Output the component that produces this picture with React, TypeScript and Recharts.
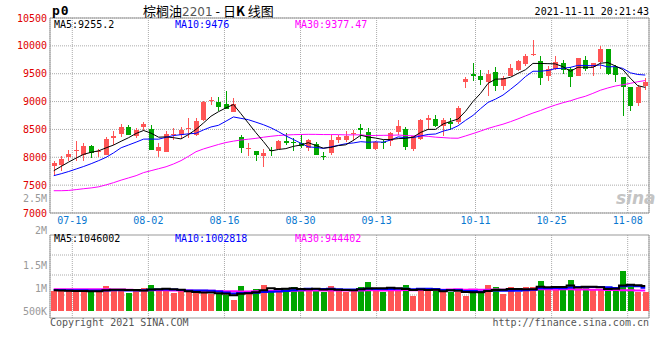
import { ComposedChart, Bar, Line, XAxis, YAxis, CartesianGrid, ReferenceArea } from 'recharts'

// trading days shown on the daily K chart
const dates = [
  '07-14', '07-15', '07-16', '07-19', '07-20', '07-21', '07-22', '07-23', '07-26', '07-27', '07-28', '07-29', '07-30',
  '08-02', '08-03', '08-04', '08-05', '08-06', '08-09', '08-10', '08-11', '08-12', '08-13', '08-16', '08-17', '08-18',
  '08-19', '08-20', '08-23', '08-24', '08-25', '08-26', '08-27', '08-30', '08-31',
  '09-01', '09-02', '09-03', '09-06', '09-07', '09-08', '09-09', '09-10', '09-13', '09-14', '09-15', '09-16', '09-17',
  '09-22', '09-23', '09-24', '09-27', '09-28', '09-29', '09-30',
  '10-08', '10-11', '10-12', '10-13', '10-14', '10-15', '10-18', '10-19', '10-20', '10-21', '10-22', '10-25', '10-26',
  '10-27', '10-28', '10-29',
  '11-01', '11-02', '11-03', '11-04', '11-05', '11-08', '11-09', '11-10', '11-11',
]

const opens = [
  7843, 7867, 8011, 8112, 8035, 8208, 8088, 8047, 8346, 8418,
  8549, 8376, 8537, 8513, 8106, 8088, 8394, 8394, 8520, 8406,
  8663, 9010, 8992, 8956, 8812, 8364, 8160, 8118, 8017, 8130,
  8154, 8298, 8274, 8256, 8166, 8244, 8029, 8077, 8316, 8316,
  8420, 8531, 8459, 8148, 8280, 8286, 8447, 8513, 8148, 8328,
  8663, 8687, 8567, 8639, 8639, 9345, 9500, 9464, 9345, 9536,
  9285, 9464, 9560, 9680, 9835, 9734, 9464, 9584, 9698, 9584,
  9464, 9752, 9620, 9716, 9949, 9620, 9440, 9261, 8974, 9285,
]
const highs = [
  7927, 8029, 8130, 8298, 8256, 8226, 8154, 8358, 8465, 8597,
  8585, 8525, 8627, 8585, 8256, 8465, 8525, 8537, 8705, 8705,
  9004, 9076, 9076, 9183, 9064, 8406, 8256, 8118, 8148, 8178,
  8316, 8435, 8346, 8406, 8334, 8274, 8088, 8406, 8406, 8477,
  8490, 8603, 8531, 8286, 8304, 8447, 8663, 8543, 8387, 8687,
  8764, 8764, 8704, 8704, 8914, 9440, 9692, 9560, 9572, 9620,
  9452, 9674, 9752, 9859, 10110, 9811, 9632, 9823, 9752, 9620,
  9781, 9823, 9692, 9991, 9949, 9662, 9440, 9261, 9303, 9422,
]
const lows = [
  7688, 7759, 7939, 7939, 7939, 7987, 7999, 8047, 8226, 8370,
  8394, 8346, 8465, 8136, 7999, 8088, 8316, 8334, 8346, 8376,
  8645, 8944, 8836, 8872, 8812, 8077, 8017, 7927, 7819, 8017,
  8154, 8226, 8106, 8166, 8118, 8035, 7945, 8035, 8256, 8274,
  8290, 8328, 8148, 8124, 8148, 8196, 8405, 8136, 8106, 8316,
  8507, 8543, 8387, 8495, 8603, 9243, 9363, 9303, 9093, 9183,
  9201, 9452, 9542, 9644, 9823, 9291, 9363, 9560, 9494, 9261,
  9452, 9542, 9464, 9584, 9482, 9351, 8734, 8824, 8914, 9213,
]
const closes = [
  7891, 7975, 8064, 8125, 8208, 8077, 8106, 8334, 8376, 8549,
  8394, 8489, 8597, 8136, 8190, 8418, 8418, 8489, 8525, 8657,
  8992, 9020, 8896, 8872, 8956, 8166, 8170, 8047, 8077, 8106,
  8298, 8250, 8250, 8196, 8316, 8047, 8011, 8316, 8358, 8388,
  8436, 8483, 8148, 8268, 8256, 8435, 8567, 8178, 8375, 8675,
  8710, 8567, 8663, 8603, 8890, 9405, 9452, 9381, 9500, 9273,
  9422, 9602, 9734, 9823, 9845, 9417, 9584, 9710, 9572, 9434,
  9781, 9584, 9692, 9949, 9500, 9470, 9261, 8926, 9261, 9358,
]

const ma5 = [
  7759, 7837, 7915, 7987, 8053, 8090, 8116, 8170, 8220, 8288,
  8352, 8428, 8481, 8433, 8361, 8366, 8352, 8330, 8408, 8501,
  8616, 8737, 8818, 8887, 8947, 8782, 8612, 8442, 8283, 8113,
  8140, 8156, 8196, 8220, 8262, 8212, 8164, 8177, 8210, 8224,
  8302, 8396, 8363, 8345, 8318, 8318, 8335, 8341, 8362, 8446,
  8501, 8501, 8598, 8644, 8687, 8826, 9003, 9146, 9326, 9402,
  9406, 9436, 9506, 9571, 9685, 9684, 9681, 9676, 9626, 9543,
  9616, 9616, 9613, 9688, 9701, 9639, 9574, 9421, 9284, 9255.2,
]
const ma10 = [
  7670, 7705, 7745, 7790, 7835, 7885, 7940, 8000, 8080, 8171,
  8221, 8272, 8326, 8327, 8325, 8359, 8390, 8406, 8421, 8431,
  8491, 8544, 8574, 8648, 8724, 8699, 8674, 8630, 8585, 8530,
  8461, 8384, 8319, 8252, 8188, 8176, 8160, 8187, 8215, 8243,
  8257, 8280, 8270, 8277, 8271, 8310, 8366, 8352, 8353, 8382,
  8410, 8418, 8469, 8503, 8566, 8663, 8752, 8872, 8985, 9044,
  9116, 9219, 9326, 9448, 9544, 9545, 9558, 9591, 9598, 9614,
  9650, 9648, 9644, 9657, 9622, 9628, 9595, 9517, 9486, 9476,
]
const ma30 = [
  7400, 7400, 7405, 7420, 7436, 7450, 7470, 7505, 7545, 7590,
  7630, 7670, 7725, 7760, 7795, 7830, 7880, 7940, 8017, 8100,
  8150, 8190, 8230, 8265, 8290, 8310, 8325, 8340, 8360, 8377,
  8391, 8400, 8406, 8409, 8412, 8411, 8408, 8408, 8407, 8402,
  8403, 8403, 8388, 8392, 8394, 8395, 8400, 8390, 8385, 8385,
  8376, 8361, 8353, 8344, 8342, 8383, 8426, 8470, 8518, 8557,
  8594, 8639, 8689, 8743, 8794, 8839, 8892, 8938, 8979, 9014,
  9058, 9095, 9147, 9203, 9244, 9279, 9302, 9327, 9356, 9377.47,
]

const volumes = [
  935000, 935000, 935000, 935000, 935000, 920000, 935000, 1043000, 978000, 935000,
  891000, 935000, 1000000, 1065000, 978000, 935000, 891000, 935000, 906000, 906000,
  884000, 877000, 862000, 848000, 739000, 1043000, 935000, 978000, 1065000, 956000,
  949000, 978000, 1022000, 993000, 935000, 978000, 920000, 1043000, 935000, 915000,
  956000, 1022000, 1130000, 956000, 906000, 1022000, 956000, 1065000, 826000, 978000,
  956000, 978000, 920000, 920000, 920000, 826000, 956000, 906000, 1065000, 1022000,
  870000, 1022000, 920000, 1022000, 1022000, 1152000, 956000, 956000, 1022000, 1174000,
  956000, 1022000, 956000, 978000, 978000, 978000, 1370000, 1051000, 920000, 911000,
]
const volMa5 = [
  950000, 945000, 940000, 937000, 935000, 932000, 932000, 953600, 962200, 962200,
  956400, 956400, 947800, 965200, 973800, 982600, 973800, 960800, 929000, 914600,
  904400, 901600, 887000, 875400, 842000, 873800, 885400, 908600, 952000, 995400,
  976600, 985200, 994000, 979600, 975400, 981200, 969600, 973800, 962200, 958200,
  953800, 974200, 991600, 995800, 994000, 1007200, 994000, 981000, 955000, 969400,
  956200, 960600, 931600, 950400, 938800, 912800, 908400, 905600, 934600, 955000,
  963800, 977000, 979800, 971200, 971200, 1027600, 1014400, 1021600, 1021600, 1052000,
  1012800, 1026000, 1026000, 1017200, 978000, 982400, 1052000, 1071000, 1059400, 1046002,
]
const volMa10 = [
  955000, 955000, 953000, 952000, 950000, 948000, 947000, 948000, 949000, 948600,
  944200, 944200, 950700, 963700, 968000, 969500, 965100, 954300, 947100, 944200,
  943500, 937700, 923900, 902200, 878300, 889100, 893500, 897800, 913700, 918700,
  925200, 935300, 951300, 965800, 985400, 978900, 977400, 983900, 970900, 966800,
  967500, 971900, 982700, 979000, 976100, 980500, 984100, 986300, 975400, 981700,
  981700, 977300, 956300, 952700, 954100, 934500, 934500, 918600, 942500, 946900,
  938300, 942700, 942700, 952900, 963100, 995700, 995700, 1000700, 996400, 1011600,
  1020200, 1020200, 1023800, 1019400, 1015000, 997600, 1039000, 1048500, 1038300, 1002818,
]
const volMa30 = [
  975000, 975000, 975000, 975000, 975000, 974000, 973000, 972000, 970000, 968000,
  962000, 958000, 955000, 953000, 951000, 950000, 948000, 946000, 944000, 942000,
  940000, 938000, 935000, 932000, 928000, 926000, 926000, 928000, 932000, 937200,
  937600, 939100, 942000, 943900, 943900, 945800, 945300, 945300, 943900, 943200,
  945400, 948300, 952600, 949000, 946600, 949500, 951700, 956000, 953300, 955700,
  958100, 961500, 963400, 965800, 971900, 964600, 965300, 962900, 962900, 965100,
  962500, 964000, 960600, 961500, 964400, 970200, 971400, 968500, 971400, 972000,
  970000, 967000, 964000, 961000, 958000, 955000, 952000, 949000, 946000, 944402,
]

const tickDates = ['07-19', '08-02', '08-16', '08-30', '09-13', '10-11', '10-25', '11-08']
const priceTicks = [7000, 7500, 8000, 8500, 9000, 9500, 10000, 10500]
const volTicks = [500000, 1000000, 1500000]

const RED = '#ff5555'
const GREEN = '#00a600'
const GRID = '#aaaaaa'
const FRAME = '#999999'
const MONO = '"DejaVu Sans Mono", monospace'

const PRICE_DOMAIN: [number, number] = [7000, 10500]
const VOL_DOMAIN: [number, number] = [348000, 2152000]
const VOL_BASE = 500000
const IDX_DOMAIN: [number, number] = [-0.5, dates.length - 0.5]
// sina spaces its date grid a bit wider than the candles, so it gets its own axis
const DATE_DOMAIN: [number, number] = [-2.93, 75.8]

const rows = dates.map((date, i) => ({
  idx: i,
  date,
  open: opens[i],
  high: highs[i],
  low: lows[i],
  close: closes[i],
  ma5: ma5[i],
  ma10: ma10[i],
  ma30: ma30[i],
  volume: volumes[i],
  vma5: volMa5[i],
  vma10: volMa10[i],
  vma30: volMa30[i],
}))

const firstTick = dates.indexOf(tickDates[0])
const dateTicks = tickDates.map((d) => dates.indexOf(d) - firstTick)
const dateLabel = (v: number) => tickDates[dateTicks.indexOf(v)] ?? ''
const volLabel = (v: number) => (v >= 1e6 ? `${v / 1e6}M` : `${v / 1000}K`)
const last = (a: number[]) => a[a.length - 1]

// eslint-disable-next-line @typescript-eslint/no-explicit-any
function Candle(props: any) {
  const { x, y, width, height, payload } = props
  const { open, close, high, low } = payload
  const color = close >= open ? RED : GREEN
  const top = Math.min(y, y + height)
  const h = Math.abs(height)
  const k = high > low ? h / (high - low) : 0
  const yOf = (v: number) => top + (high - v) * k
  const cx = Math.round(x + width / 2)
  const bTop = Math.round(yOf(Math.max(open, close)))
  const bBot = Math.round(yOf(Math.min(open, close)))
  return (
    <g>
      <line x1={cx + 0.5} x2={cx + 0.5} y1={Math.round(top)} y2={Math.round(top + h)} stroke={color} />
      <rect x={cx - 2} y={bTop} width={5} height={Math.max(1, bBot - bTop)} fill={color} />
    </g>
  )
}

// eslint-disable-next-line @typescript-eslint/no-explicit-any
function VolBar(props: any) {
  const { x, y, width, height, payload } = props
  const top = Math.round(Math.min(y, y + height))
  const bottom = Math.round(Math.max(y, y + height))
  return (
    <rect
      x={Math.round(x)}
      y={top}
      width={Math.round(width)}
      height={bottom - top}
      fill={payload.close >= payload.open ? RED : GREEN}
    />
  )
}

const txt = (left: number, top: number, color: string, extra: object = {}) => ({
  position: 'absolute' as const,
  left,
  top,
  color,
  fontFamily: MONO,
  fontSize: 10,
  lineHeight: '10px',
  whiteSpace: 'nowrap' as const,
  ...extra,
})

export default function App() {
  return (
    <div style={{ position: 'absolute', left: 0, top: 0, width: 660, height: 360, background: '#fff', overflow: 'hidden' }}>
      <div style={{ position: 'absolute', left: 0, top: 0 }}>
        <ComposedChart width={660} height={230} data={rows} margin={{ top: 18, right: 11, bottom: 3, left: 2 }}>
          <XAxis xAxisId="main" type="number" dataKey="idx" domain={IDX_DOMAIN} hide />
          <XAxis
            xAxisId="dates"
            type="number"
            dataKey="idx"
            domain={DATE_DOMAIN}
            allowDataOverflow
            ticks={dateTicks}
            interval={0}
            tickFormatter={dateLabel}
            height={14}
            tickSize={0}
            tickMargin={4}
            axisLine={false}
            tickLine={false}
            tick={{ fill: '#0a78d0', fontSize: 10, fontFamily: MONO }}
          />
          <YAxis
            yAxisId="price"
            domain={PRICE_DOMAIN}
            ticks={priceTicks}
            interval={0}
            width={48}
            tickSize={0}
            tickMargin={3}
            axisLine={false}
            tickLine={false}
            tick={{ fill: '#e00000', fontSize: 10, fontFamily: MONO }}
          />
          <CartesianGrid xAxisId="dates" yAxisId="price" stroke={GRID} strokeDasharray="1 1" />
          <Bar
            xAxisId="main"
            yAxisId="price"
            dataKey={(r: { low: number; high: number }) => [r.low, r.high]}
            barSize={5}
            shape={Candle}
            isAnimationActive={false}
          />
          <Line xAxisId="main" yAxisId="price" dataKey="ma30" stroke="#ff00ff" strokeWidth={1} dot={false} isAnimationActive={false} />
          <Line xAxisId="main" yAxisId="price" dataKey="ma10" stroke="#0000ff" strokeWidth={1} dot={false} isAnimationActive={false} />
          <Line xAxisId="main" yAxisId="price" dataKey="ma5" stroke="#000000" strokeWidth={1} dot={false} isAnimationActive={false} />
          <ReferenceArea
            xAxisId="main"
            yAxisId="price"
            x1={IDX_DOMAIN[0]}
            x2={IDX_DOMAIN[1]}
            y1={PRICE_DOMAIN[0]}
            y2={PRICE_DOMAIN[1]}
            fill="none"
            stroke={FRAME}
          />
        </ComposedChart>
      </div>

      <div style={{ position: 'absolute', left: 0, top: 228 }}>
        <ComposedChart width={660} height={100} data={rows} margin={{ top: 7, right: 11, bottom: 10, left: 2 }}>
          <XAxis xAxisId="main" type="number" dataKey="idx" domain={IDX_DOMAIN} hide />
          <XAxis
            xAxisId="dates"
            type="number"
            dataKey="idx"
            domain={DATE_DOMAIN}
            allowDataOverflow
            ticks={dateTicks}
            interval={0}
            tickFormatter={() => ''}
            height={0}
            axisLine={false}
            tickLine={false}
          />
          <YAxis
            yAxisId="vol"
            domain={VOL_DOMAIN}
            allowDataOverflow
            ticks={volTicks}
            interval={0}
            tickFormatter={volLabel}
            width={48}
            tickSize={0}
            tickMargin={3}
            axisLine={false}
            tickLine={false}
            tick={{ fill: '#999999', fontSize: 10, fontFamily: MONO }}
          />
          <CartesianGrid xAxisId="dates" yAxisId="vol" horizontalPoints={[27, 47, 67]} stroke={GRID} strokeDasharray="1 1" />
          <Bar
            xAxisId="main"
            yAxisId="vol"
            dataKey={(r: { volume: number }) => [VOL_BASE, r.volume]}
            barSize={6}
            shape={VolBar}
            isAnimationActive={false}
          />
          <Line xAxisId="main" yAxisId="vol" type="step" dataKey="vma30" stroke="#ff00ff" strokeWidth={2} dot={false} isAnimationActive={false} />
          <Line xAxisId="main" yAxisId="vol" type="step" dataKey="vma10" stroke="#0000ff" strokeWidth={2} dot={false} isAnimationActive={false} />
          <Line xAxisId="main" yAxisId="vol" type="step" dataKey="vma5" stroke="#000000" strokeWidth={2} dot={false} isAnimationActive={false} />
          <ReferenceArea
            xAxisId="main"
            yAxisId="vol"
            x1={IDX_DOMAIN[0]}
            x2={IDX_DOMAIN[1]}
            y1={VOL_DOMAIN[0]}
            y2={VOL_DOMAIN[1]}
            fill="none"
            stroke={FRAME}
          />
        </ComposedChart>
      </div>

      {/* header */}
      <div style={txt(52, 4, '#000', { fontSize: 13, lineHeight: '13px', fontWeight: 'bold', letterSpacing: 1 })}>p0</div>
      <div
        style={{
          position: 'absolute',
          left: 143,
          top: 4,
          fontSize: 13,
          lineHeight: '13px',
          fontFamily: '"Noto Sans CJK SC", sans-serif',
          color: '#000',
          whiteSpace: 'nowrap',
        }}
      >
        棕榈油<span style={{ color: '#555', fontFamily: '"DejaVu Sans", sans-serif', fontSize: 12 }}>2201</span> - 日
        <b>K</b> 线图
      </div>
      <div style={txt(0, 7, '#000', { left: undefined, right: 11 })}>2021-11-11 20:21:43</div>

      {/* price legend */}
      <div style={txt(54, 20, '#000')}>MA5:{last(ma5)}</div>
      <div style={txt(175, 20, '#0000ff')}>MA10:{last(ma10)}</div>
      <div style={txt(295, 20, '#ff00ff')}>MA30:{last(ma30)}</div>

      {/* volume labels that sit above the volume panel */}
      <div style={txt(0, 194, '#999', { left: undefined, right: 613 })}>2.5M</div>
      <div style={txt(0, 226, '#999', { left: undefined, right: 613 })}>2M</div>

      {/* volume legend */}
      <div style={txt(54, 234, '#000')}>MA5:{last(volMa5)}</div>
      <div style={txt(175, 234, '#0000ff')}>MA10:{last(volMa10)}</div>
      <div style={txt(295, 234, '#ff00ff')}>MA30:{last(volMa30)}</div>

      {/* watermark and footer */}
      <div
        style={{
          position: 'absolute',
          left: 616,
          top: 190,
          fontSize: 17,
          fontWeight: 'bold',
          fontStyle: 'italic',
          fontFamily: '"DejaVu Sans", sans-serif',
          color: '#c4c4c4',
          lineHeight: '17px',
        }}
      >
        sina
      </div>
      <div style={txt(50, 318, '#555')}>Copyright 2021 SINA.COM</div>
      <div style={txt(0, 318, '#555', { left: undefined, right: 11 })}>http://finance.sina.com.cn</div>
    </div>
  )
}
